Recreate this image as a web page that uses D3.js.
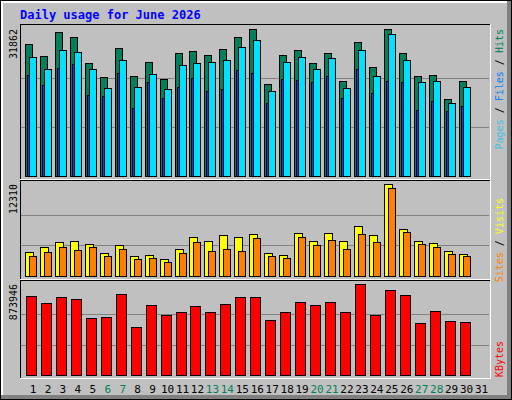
<!doctype html>
<html lang="en">
<head>
  <meta charset="utf-8">
  <title>Daily usage for June 2026</title>
  <style>
    body { margin: 0; background: #fff; }
    text { font-family: "DejaVu Sans Mono", monospace; }
  </style>
</head>
<body>
  <script src="https://cdn.jsdelivr.net/npm/d3@7/dist/d3.min.js"></script>
  <script>
    var days = d3.range(1, 32)
    var weekends = [6, 7, 13, 14, 20, 21, 27, 28]
    var hits = [28610, 25940, 31140, 30060, 24420, 21390, 27670, 21600, 24640, 20950,
      26590, 27020, 26160, 27460, 30060, 31862, 19870, 26160, 27240, 24420,
      26590, 20520, 28970, 23560, 31800, 26590, 21600, 21820, 16620, 20520]
    var files = [25720, 23120, 27240, 26810, 23120, 19000, 25070, 19220, 22040, 18790,
      23990, 24420, 24640, 25070, 27890, 29410, 18350, 24640, 25720, 23120,
      25510, 19000, 27240, 21600, 30710, 25070, 20300, 20520, 15750, 19220]
    var pages = [21820, 19650, 23340, 24200, 17490, 17270, 22250, 14670, 20300, 16840,
      19220, 21170, 18350, 18790, 22900, 22250, 15750, 20950, 20740, 20300,
      21600, 16840, 23120, 17920, 20520, 20300, 14240, 16190, 14020, 15100]
    var visits = [3200, 3870, 4540, 4670, 4270, 3070, 4140, 2670, 2800, 2270,
      3600, 5200, 4670, 5470, 5200, 5600, 3070, 2800, 5740, 4670,
      5740, 4670, 6670, 5470, 12310, 6270, 4670, 4400, 3340, 2930]
    var sites = [2670, 3200, 3870, 3470, 3870, 2670, 3600, 2270, 2400, 1870,
      3070, 4540, 3340, 3600, 3340, 5070, 2670, 2400, 5200, 4140,
      4800, 3600, 5600, 4540, 11740, 5870, 4270, 3870, 2930, 2670]
    var kbytes = [756200, 689200, 746600, 727500, 545600, 555200, 775300, 459500, 670000, 574300,
      603000, 660500, 603000, 679600, 746600, 746600, 526500, 603000, 698800, 670000,
      698800, 603000, 873946, 574300, 813600, 765800, 497700, 612600, 516900, 507300]

    var W = 512, H = 400
    var svg = d3.select('body').append('svg').attr('width', W).attr('height', H)

    // frame and bevel
    svg.append('rect').attr('x', 0).attr('y', 0).attr('width', W).attr('height', H).attr('fill', '#000')
    svg.append('rect').attr('x', 1).attr('y', 1).attr('width', W - 2).attr('height', H - 2).attr('fill', '#808080')
    svg.append('rect').attr('x', 1).attr('y', 1).attr('width', W - 6).attr('height', H - 6).attr('fill', '#fff')
    svg.append('rect').attr('x', 3).attr('y', 3).attr('width', W - 8).attr('height', H - 8).attr('fill', '#c0c0c0')

    svg.append('text').attr('x', 20).attr('y', 19)
      .attr('fill', '#0000ff').attr('font-weight', 'bold').attr('font-size', 12)
      .text('Daily usage for June 2026')

    var x = d3.scaleBand().domain(days).range([25, 25 + 31 * 14.95]).paddingInner(0)
    var left = 20, right = 490

    function panel(top, base, maxY, max) {
      var y = d3.scaleLinear().domain([0, max]).range([base, maxY])
      ;[1 / 3, 2 / 3].forEach(function(f) {
        svg.append('line').attr('x1', left + 1).attr('x2', right - 1)
          .attr('y1', Math.round(y(max * f)) + 0.5).attr('y2', Math.round(y(max * f)) + 0.5)
          .attr('stroke', '#808080')
      })
      return y
    }

    function bars(data, y, dx, w, fill) {
      svg.append('g').selectAll('rect').data(data).enter().append('rect')
        .attr('x', function(d, i) { return Math.round(x(days[i]) + dx) + 0.5 })
        .attr('y', function(d) { return Math.round(y(d)) + 0.5 })
        .attr('width', w)
        .attr('height', function(d) { return y(0) - Math.round(y(d)) })
        .attr('fill', fill).attr('stroke', '#000')
    }

    // panel frames
    function frame(t, b) {
      svg.append('line').attr('x1', left).attr('x2', right).attr('y1', t + 0.5).attr('y2', t + 0.5).attr('stroke', '#000')
      svg.append('line').attr('x1', left + 0.5).attr('x2', left + 0.5).attr('y1', t).attr('y2', b).attr('stroke', '#000')
      svg.append('line').attr('x1', left).attr('x2', right + 1).attr('y1', b + 0.5).attr('y2', b + 0.5).attr('stroke', '#fff')
      svg.append('line').attr('x1', right + 0.5).attr('x2', right + 0.5).attr('y1', t).attr('y2', b).attr('stroke', '#fff')
    }
    frame(24, 179); frame(180, 279); frame(280, 378)

    var y1 = panel(24, 176, 29, 31862)
    bars(hits, y1, 0, 7, '#00805c')
    bars(pages, y1, 2, 2, '#0040ff')
    bars(files, y1, 4, 7, '#00e0ff')

    var y2 = panel(180, 276, 184, 12310)
    bars(visits, y2, 0, 8, '#ffff00')
    bars(sites, y2, 4, 7, '#ff8000')

    var y3 = panel(280, 375, 284, 873946)
    bars(kbytes, y3, 1, 10, '#ff0000')

    // day labels
    svg.append('g').selectAll('text').data(days).enter().append('text')
      .attr('x', function(d) { return x(d) + 8 })
      .attr('y', 393)
      .attr('text-anchor', 'middle').attr('font-size', 11)
      .attr('font-family', 'DejaVu Sans, sans-serif')
      .attr('fill', function(d) { return weekends.indexOf(d) >= 0 ? '#00805c' : '#000' })
      .text(function(d) { return d })

    // max labels
    function vlabel(xp, yp, t) {
      svg.append('text').attr('transform', 'translate(' + xp + ',' + yp + ') rotate(-90)')
        .attr('text-anchor', 'end').attr('font-size', 10).attr('fill', '#000').text(t)
    }
    vlabel(17, 29, '31862'); vlabel(17, 184, '12310'); vlabel(17, 284, '873946')

    function legend(yp, parts) {
      var t = svg.append('text').attr('transform', 'translate(503,' + yp + ') rotate(-90)')
        .attr('text-anchor', 'end').attr('font-size', 10)
      parts.forEach(function(p) { t.append('tspan').attr('fill', p[1]).text(p[0]) })
    }
    legend(29, [['Pages', '#40c0e0'], [' / ', '#000'], ['Files', '#0080ff'], [' / ', '#000'], ['Hits', '#00805c']])
    legend(198, [['Sites', '#ff8000'], [' / ', '#000'], ['Visits', '#ffff00']])
    legend(341, [['KBytes', '#ff0000']])
  </script>
</body>
</html>
